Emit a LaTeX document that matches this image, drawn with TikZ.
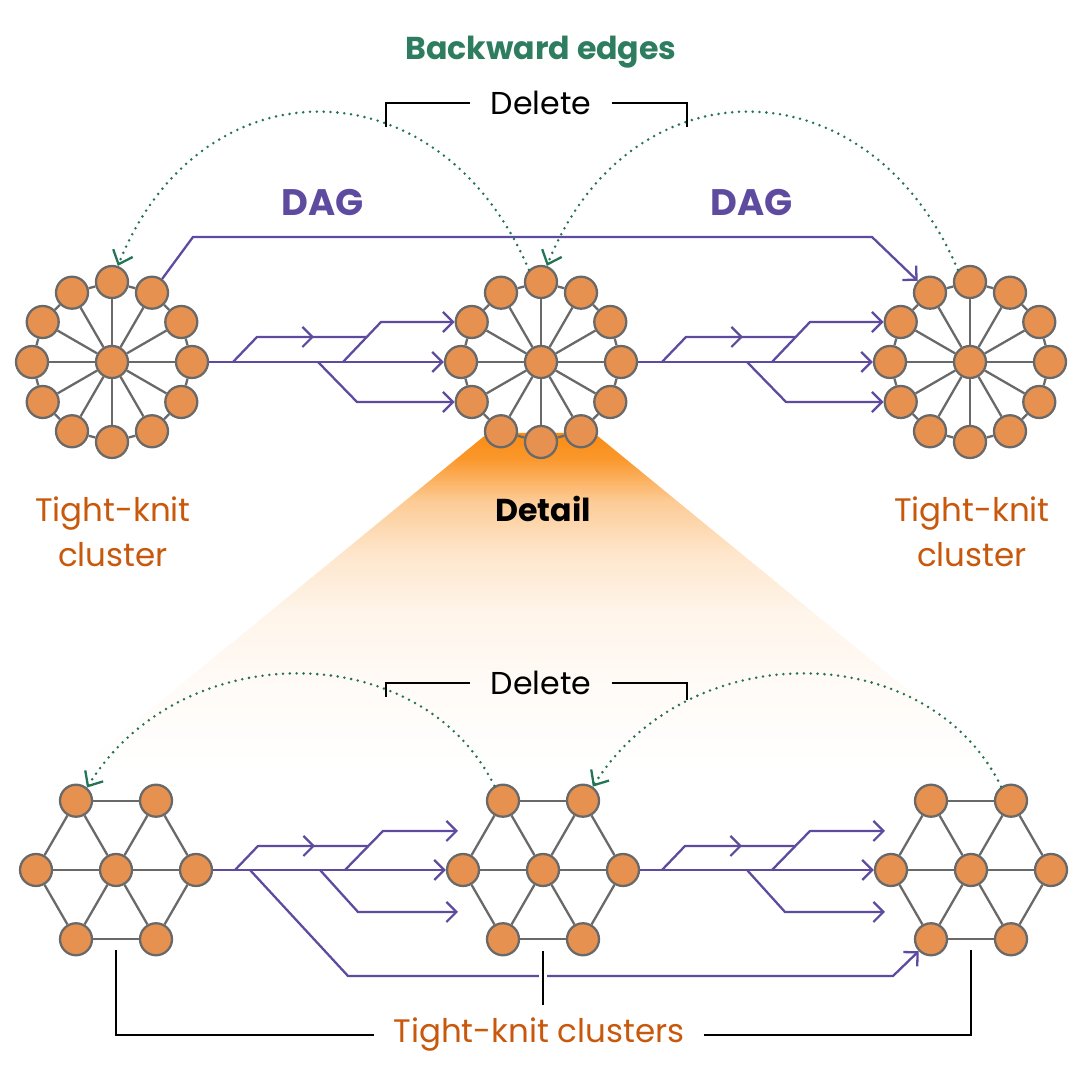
\documentclass[tikz,border=0pt]{standalone}
\usepackage{fontspec}
\setmainfont{Poppins}
\usetikzlibrary{arrows.meta,calc}

\definecolor{nodefill}{RGB}{230,145,80}
\definecolor{edgegray}{RGB}{105,105,105}
\definecolor{dagpurple}{RGB}{94,75,160}
\definecolor{backgreen}{RGB}{46,125,96}
\definecolor{dotgreen}{RGB}{35,115,85}
\definecolor{labelorange}{RGB}{200,88,12}
\definecolor{detailorange}{RGB}{250,140,20}

\pgfdeclareverticalshading{detailfade}{100bp}{color(0bp)=(white); color(36bp)=(white);
  color(46bp)=(detailorange!4); color(54bp)=(detailorange!9); color(61bp)=(detailorange!22);
  color(67bp)=(detailorange!45); color(72bp)=(detailorange!90); color(75bp)=(detailorange);
  color(100bp)=(detailorange)}

\begin{document}
\begin{tikzpicture}[x=0.2mm,y=0.2mm]
\tikzset{
  clusternode/.style={circle,draw=edgegray,fill=nodefill,line width=1.3pt,minimum size=6.4mm,inner sep=0pt},
  clusteredge/.style={draw=edgegray,line width=1.3pt},
  dagline/.style={draw=dagpurple,line width=1.3pt,line join=round},
  dagarrow/.style={dagline,-{Straight Barb[length=2mm,width=4mm,line width=1.3pt]}},
  backedge/.style={draw=dotgreen,line width=1.6pt,line cap=round,dash pattern=on 0pt off 3.9pt,
    -{Straight Barb[length=2.4mm,width=4.2mm,line width=1.3pt]}},
  bracketline/.style={draw=black,line width=1.1pt},
  deletelabel/.style={font=\fontsize{18}{22}\selectfont,inner sep=4mm},
  clusterlabel/.style={font=\fontsize{18.5}{25.5}\selectfont,text=labelorange,align=center},
  daglabel/.style={font=\fontsize{21}{25}\selectfont\bfseries,text=dagpurple}
}
\useasboundingbox (0,0) rectangle (1088,1080);
\fill[white] (0,0) rectangle (1088,1080);

% zoom fan below the middle cluster
\begin{scope}
\clip (0,0) rectangle (1088,1080);
\shade[shading=detailfade] (488,647) -- (594,647) -- (1115,220) -- (-33,220) -- cycle;
\end{scope}

% wheel clusters (top row)
\foreach \c/\x in {tA/112,tB/541,tC/970}{
  \node[clusternode] (hub\c) at (\x,718) {};
  \foreach \i in {0,...,11}
    \node[clusternode] (\c\i) at ($(\x,718)+(\i*30:80)$) {};
  \foreach \i [evaluate=\i as \j using {int(mod(\i+1,12))}] in {0,...,11}{
    \draw[clusteredge] (hub\c) -- (\c\i);
    \draw[clusteredge] (\c\i) -- (\c\j);
  }
}

% hexagon clusters (bottom row)
\foreach \c/\x in {bA/116,bB/543,bC/971}{
  \node[clusternode] (hub\c) at (\x,210) {};
  \foreach \i in {0,...,5}
    \node[clusternode] (\c\i) at ($(\x,210)+(\i*60:80)$) {};
  \foreach \i [evaluate=\i as \j using {int(mod(\i+1,6))}] in {0,...,5}{
    \draw[clusteredge] (hub\c) -- (\c\i);
    \draw[clusteredge] (\c\i) -- (\c\j);
  }
}

% forward edges, top
\foreach \s/\t in {tA/tB,tB/tC}{
  \draw[dagarrow] (\s0) -- (\t6);
  \draw[dagline] ($(\s0)+(41,0)$) -- ++(24,25) -- ++(110,0);
  \draw[dagarrow] ($(\s0)+(65,25)$) -- ++(57,0);
  \draw[dagarrow] ($(\s0)+(151,0)$) -- ++(38,40) -- (\t5);
  \draw[dagarrow] ($(\s0)+(126,0)$) -- ++(39,-40) -- (\t7);
}
\draw[dagarrow] (tA2) -- (193,843) -- (872,843) -- (tC4);

% forward edges, bottom
\foreach \s/\t in {bA/bB,bB/bC}{
  \draw[dagarrow] (\s0) -- (\t3);
  \draw[dagline] ($(\s0)+(39,0)$) -- ++(23,24) -- ++(110,0);
  \draw[dagarrow] ($(\s0)+(62,24)$) -- ++(57,0);
  \draw[dagarrow] ($(\s0)+(149,0)$) -- ++(38,39) -- ++(75,0);
  \draw[dagarrow] ($(\s0)+(124,0)$) -- ++(38,-42) -- ++(100,0);
}
\draw[dagarrow] ($(bA0)+(54,0)$) -- ++(98,-106) -- (893,104) -- (bC4);

% backward edges
\draw[backedge] (tB3.135) .. controls (440,1020) and (200,1020) .. (tA3.70);
\draw[backedge] (tC3.135) .. controls (869,1020) and (629,1020) .. (tB3.70);
\draw[backedge] (bB2.120) .. controls (420,444) and (180,444) .. (bA2.50);
\draw[backedge] (bC1.125) .. controls (927,444) and (687,444) .. (bB1.55);

% labels
\node[font=\fontsize{18}{22}\selectfont\bfseries,text=backgreen] (backlabel) at (541,1028) {Backward edges};
\node[deletelabel] (deltop) at (541,977) {Delete};
\draw[bracketline] (deltop.west) -| (386,953);
\draw[bracketline] (deltop.east) -| (687,953);
\node[daglabel] (dagleft) at (323,877) {DAG};
\node[daglabel] (dagright) at (752,877) {DAG};
\node[clusterlabel] (leftlabel) at (113,548) {Tight-knit\\cluster};
\node[clusterlabel] (rightlabel) at (972,548) {Tight-knit\\cluster};
\node[font=\fontsize{18}{22}\selectfont\bfseries] (detaillabel) at (543,571) {Detail};
\node[deletelabel] (delbot) at (541,397) {Delete};
\draw[bracketline] (delbot.west) -| (386,383);
\draw[bracketline] (delbot.east) -| (687,380);
\node[clusterlabel,inner sep=3.8mm] (clusterslabel) at (539,45) {Tight-knit clusters};
\draw[bracketline] (clusterslabel.west) -| (116,130);
\draw[bracketline] (clusterslabel.east) -| (971,130);
\draw[bracketline,preaction={draw=white,line width=4pt}] (543,129) -- (543,75);
\end{tikzpicture}
\end{document}
